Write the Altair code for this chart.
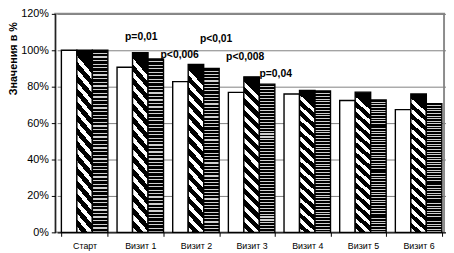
import altair as alt
import pandas as pd

categories = ["Старт", "Визит 1", "Визит 2", "Визит 3", "Визит 4", "Визит 5", "Визит 6"]
series_names = ["s1", "s2", "s3"]
dots_values = [100, 90.7, 82.8, 76.9, 76.0, 72.4, 67.4]
stripes_values = [100, 98.7, 92.2, 85.4, 77.9, 77.0, 76.0]
brick_values = [100, 95.2, 90.0, 81.4, 77.6, 72.7, 70.7]

annot_labels = ["p=0,01", "p<0,006", "p<0,01", "p<0,008", "p=0,04"]
annot_categories = ["Визит 1", "Визит 1", "Визит 2", "Визит 3", "Визит 3"]
annot_values = [107, 97.5, 106, 96.5, 87]

y_ticks = [0, 20, 40, 60, 80, 100, 120]

# ---- table built from the lists ----
rows = []
for name, vals in zip(series_names, [dots_values, stripes_values, brick_values]):
    for c, v in zip(categories, vals):
        rows.append({"cat": c, "series": name, "value": v})
df = pd.DataFrame(rows)

annot_df = pd.DataFrame({"label": annot_labels, "cat": annot_categories, "value": annot_values})

# ---- styles ----
annot_dx = [1, 40, 20.5, -6.5, 24.5]


def stripe_gradient(n, frac, c1, c2, x1, y1, x2, y2):
    stops = []
    for k in range(n):
        a = k / n
        b = (k + frac) / n
        c = (k + 1) / n
        stops += [
            {"offset": a, "color": c1},
            {"offset": b, "color": c1},
            {"offset": b, "color": c2},
            {"offset": c, "color": c2},
        ]
    return {"gradient": "linear", "x1": x1, "y1": y1, "x2": x2, "y2": y2, "stops": stops}


fills = {
    "s1": "#ffffff",
    "s2": stripe_gradient(14, 0.55, "#000000", "#ffffff", 0.1, 0, 0, 1),
    "s3": stripe_gradient(50, 0.64, "#000000", "#cfcfcf", 0, 0, 0, 1),
}

FONT = "Liberation Sans"

x_enc = alt.X(
    "cat:N",
    sort=categories,
    scale=alt.Scale(domain=categories, paddingInner=0.165, paddingOuter=0.075, range=[2, 397]),
    axis=alt.Axis(
        title=None,
        labelAngle=0,
        labelFont=FONT,
        labelFontSize=9,
        labelColor="#000000",
        labelPadding=5.5,
        tickBand="extent",
        tickColor="#000000",
        tickSize=4,
        domainColor="#000000",
        domainWidth=1,
        grid=False,
    ),
)

y_enc = alt.Y(
    "value:Q",
    scale=alt.Scale(domain=[0, 120], nice=False),
    axis=alt.Axis(
        values=y_ticks,
        labelOverlap=False,
        labelExpr="datum.value + '%'",
        labelFont=FONT,
        labelFontSize=11,
        labelColor="#000000",
        labelPadding=3,
        tickColor="#000000",
        tickSize=4,
        domainColor="#000000",
        gridColor="#808080",
        gridWidth=1,
        title="Значения в %",
        titleFont=FONT,
        titleFontSize=11,
        titleFontWeight="bold",
        titleColor="#000000",
        titleAngle=270,
        titleAlign="center",
        titleBaseline="middle",
        titleX=-42,
        titleY=45,
    ),
)

xoff = alt.XOffset(
    "series:N",
    scale=alt.Scale(domain=series_names, paddingInner=0, paddingOuter=0),
)

bar_layers = []
for name in series_names:
    bar_layers.append(
        alt.Chart(df)
        .transform_filter(alt.datum.series == name)
        .mark_bar(fill=fills[name], stroke="#000000", strokeWidth=1.4)
        .encode(x=x_enc, xOffset=xoff, y=y_enc)
    )

text_layers = []
for i in range(len(annot_labels)):
    text_layers.append(
        alt.Chart(annot_df.iloc[[i]])
        .mark_text(
            font=FONT,
            fontSize=10.5,
            fontWeight="bold",
            color="#000000",
            align="center",
            baseline="middle",
            dx=annot_dx[i],
        )
        .encode(x=x_enc, y=y_enc, text="label:N")
    )

chart = (
    alt.layer(*bar_layers, *text_layers)
    .properties(
        width=395,
        height=222,
        autosize=alt.AutoSizeParams(type="none"),
        padding={"left": 48, "top": 4, "right": 2, "bottom": 18},
        background="#ffffff",
    )
    .configure_view(stroke="#8c8c8c", strokeWidth=2)
)

chart.save("out.html", embed_options={"renderer": "svg", "actions": False})
